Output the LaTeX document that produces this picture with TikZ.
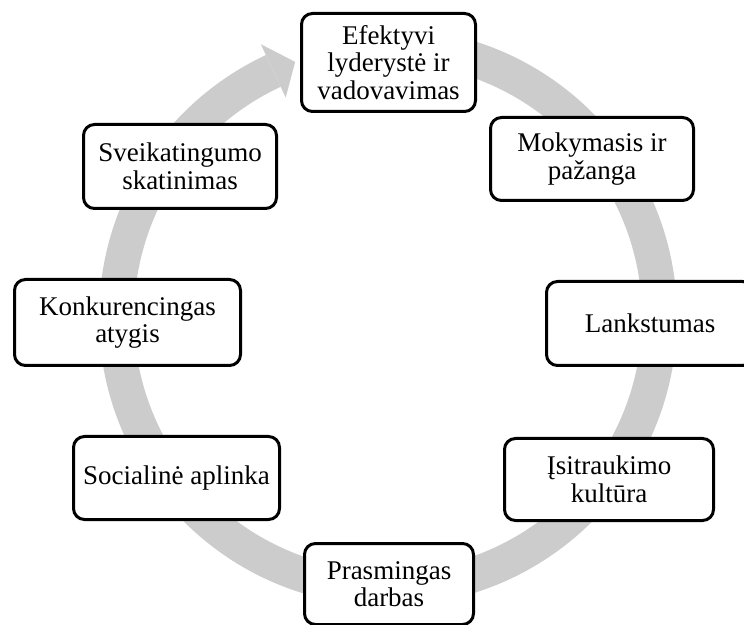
\documentclass[tikz,border=0pt]{standalone}
\usepackage{fontspec}
\setmainfont{Liberation Serif}
\definecolor{ratas}{RGB}{204,204,204}
\tikzset{
  blokas/.style={draw=black, line width=3pt, rounded corners=11pt, fill=white,
    align=center, inner sep=0pt, font=\fontsize{27}{27.5}\selectfont},
}
\begin{document}
\begin{tikzpicture}[x=1pt,y=1pt]
    \useasboundingbox (0,0) rectangle (744,624);
    \clip (0,0) rectangle (744,624);
    \coordinate (c) at (388,307);
    % pilkas ratas su rodykle
    \fill[ratas] ([shift={(85:289)}]c) arc[start angle=85, end angle=-245, radius=289]
        -- ([shift={(115:254)}]c) arc[start angle=115, end angle=445, radius=254] -- cycle;
    \fill[ratas] ([shift={(115:242)}]c) -- ([shift={(110:271.5)}]c) -- ([shift={(115:301)}]c) -- cycle;
    \foreach \nm/\x/\y/\w/\h/\txt in {
        lyd/388.5/561.5/174/98/{Efektyvi\\lyderystė ir\\vadovavimas},
        mok/592/465/203/83/{Mokymasis ir\\pažanga},
        lank/650/300.5/207/84/{Lankstumas},
        isit/609/144.5/209/82/{Įsitraukimo\\kultūra},
        prasm/389/40/169/81/{Prasmingas\\darbas},
        soc/176.5/146/206/83/{Socialinė aplinka},
        konk/127.5/301.5/226/86/{Konkurencingas\\atygis},
        sveik/180/457.5/193/84/{Sveikatingumo\\skatinimas}}
      \node[blokas, minimum width=\w, minimum height=\h] (\nm) at (\x,\y) {\txt};
\end{tikzpicture}
\end{document}
